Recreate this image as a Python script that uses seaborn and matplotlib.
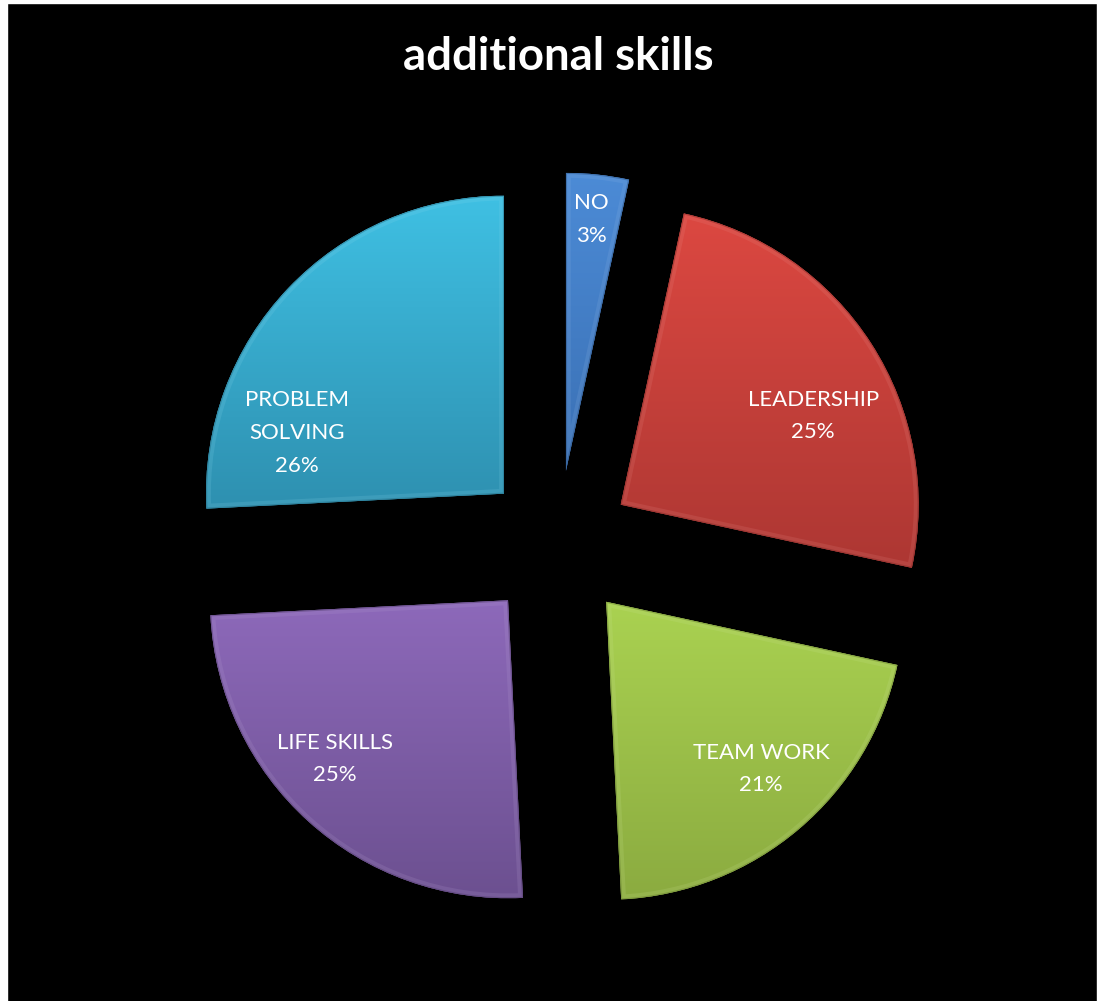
import numpy as np
import matplotlib
matplotlib.use("Agg")
import matplotlib.pyplot as plt
import seaborn as sns
from matplotlib.patches import Rectangle, PathPatch
from matplotlib.colors import to_rgb

# ---- data -------------------------------------------------------------
categories = ["NO", "LEADERSHIP", "TEAM WORK", "LIFE SKILLS", "PROBLEM SOLVING"]
shares = [3.4, 25.0, 20.8, 25.0, 25.8]          # percent of respondents
label_text = ["NO", "LEADERSHIP", "TEAM WORK", "LIFE SKILLS", "PROBLEM\nSOLVING"]
title = "additional skills"

# ---- styling ----------------------------------------------------------
top_colors = ["#4C8BD6", "#DC4841", "#AAD251", "#8D69BA", "#3FC0E3"]
bottom_colors = ["#3A70B4", "#AD3733", "#8BAB40", "#6C5090", "#2E90B0"]
label_xy = [(0.111, 1.091), (0.856, 0.433), (0.681, -0.752),
            (-0.748, -0.718), (-0.876, 0.376)]

sns.set_theme(style="dark", rc={"axes.facecolor": "black",
                                "figure.facecolor": "black"})
plt.rcParams["font.family"] = ["Lato", "DejaVu Sans"]

W, H = 1103, 1001
fig = plt.figure(figsize=(W / 100, H / 100), dpi=100, facecolor="black")
ax = fig.add_axes([0, 0, 1, 1])
ax.set_facecolor("black")

wedges, _ = ax.pie(shares, startangle=90, counterclock=False,
                   explode=[0.25] * len(shares), radius=1.0,
                   colors=bottom_colors, wedgeprops=dict(linewidth=0))

# vertical gradient and bevel rim for every slice
for w, c_top, c_bot in zip(wedges, top_colors, bottom_colors):
    ext = w.get_path().get_extents()
    t = np.linspace(0, 1, 256)[:, None]
    a, b = np.array(to_rgb(c_top)), np.array(to_rgb(c_bot))
    grad = (a[None, :] * (1 - t) + b[None, :] * t)[:, None, :]
    im = ax.imshow(grad, extent=[ext.x0, ext.x1, ext.y0, ext.y1],
                   origin="upper", aspect="auto", interpolation="bicubic",
                   zorder=2)
    im.set_clip_path(w)
    rim_col = a * 0.6 + np.ones(3) * 0.4
    rim = PathPatch(w.get_path(), facecolor="none", edgecolor=rim_col,
                    linewidth=7, alpha=0.16, zorder=3)
    ax.add_patch(rim)
    rim.set_clip_path(w)
    rim2 = PathPatch(w.get_path(), facecolor="none", edgecolor=b * 0.75,
                     linewidth=1.6, alpha=0.5, zorder=3)
    ax.add_patch(rim2)
    rim2.set_clip_path(w)

for (x, y), name, v in zip(label_xy, label_text, shares):
    ax.text(x, y, f"{name}\n{round(v)}%", ha="center", va="center",
            color="white", fontsize=16, linespacing=1.8, zorder=5)

# 1 data unit = 298 px, pie centre at (558, 545) px from top-left
scale, cx, cy = 298.0, 558.0, 545.0
ax.set_xlim(-cx / scale, (W - cx) / scale)
ax.set_ylim(-(H - cy) / scale, cy / scale)
ax.set_aspect("auto")
ax.axis("off")

fig.text(558 / W, 1 - 70 / H, title, ha="center", va="baseline",
         color="white", fontsize=32.8, fontweight="bold")

# thin white frame on the left, top and right edges
fig.patches.append(Rectangle((0, 0), 7 / W, 1, transform=fig.transFigure,
                             color="white", zorder=10))
fig.patches.append(Rectangle((0, 1 - 3 / H), 1, 3 / H,
                             transform=fig.transFigure, color="white",
                             zorder=10))
fig.patches.append(Rectangle((1 - 6 / W, 0), 6 / W, 1,
                             transform=fig.transFigure, color="white",
                             zorder=10))

fig.savefig("out.png", dpi=100, facecolor="black")
